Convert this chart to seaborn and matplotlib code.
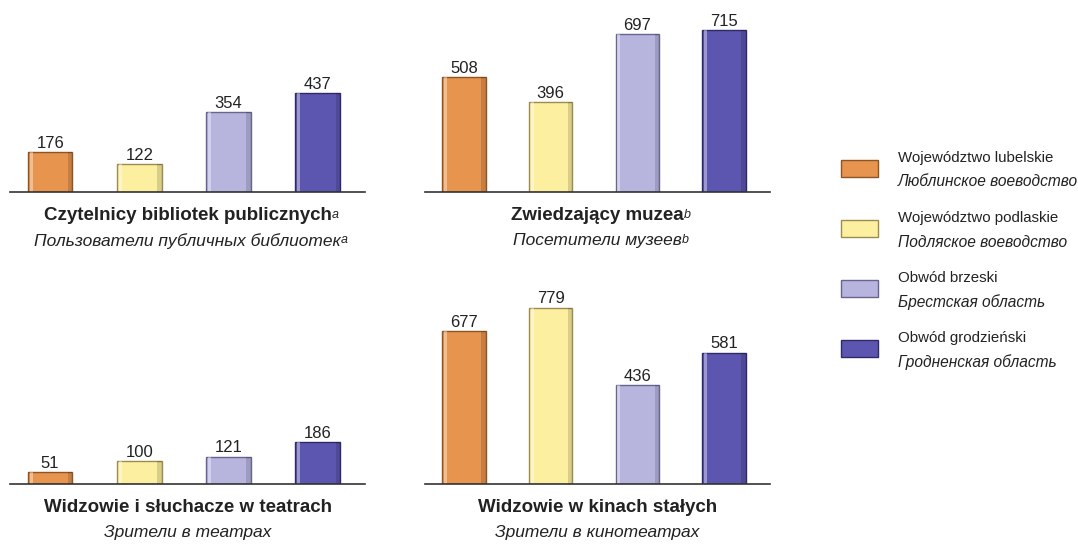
import matplotlib
matplotlib.use('Agg')
import matplotlib.pyplot as plt
from matplotlib.patches import Rectangle
import seaborn as sns
import pandas as pd

sns.set_style('white')
plt.rcParams['font.family'] = ['Liberation Sans', 'DejaVu Sans']

# regions (legend)
regions_pl = ['Województwo lubelskie', 'Województwo podlaskie', 'Obwód brzeski', 'Obwód grodzieński']
regions_ru = ['Люблинское воеводство', 'Подляское воеводство', 'Брестская область', 'Гродненская область']
colors = ['#E6944E', '#FCEFA0', '#B7B5DE', '#5D56B0']
edges = ['#8E5424', '#9C8A50', '#67658F', '#2E2A66']

# values per panel
readers = [176, 122, 354, 437]
museums = [508, 396, 697, 715]
theatres = [51, 100, 121, 186]
cinemas = [677, 779, 436, 581]

titles_pl = ['Czytelnicy bibliotek publicznych', 'Zwiedzający muzea',
             'Widzowie i słuchacze w teatrach', 'Widzowie w kinach stałych']
titles_ru = ['Пользователи публичных библиотек', 'Посетители музеев',
             'Зрители в театрах', 'Зрители в кинотеатрах']
notes = ['a', 'b', '', '']

W, H = 1078, 547
fig = plt.figure(figsize=(W / 100, H / 100), dpi=100)

# panel boxes in pixels: left, baseline, right
boxes = [(10, 192, 365), (425, 192, 770), (10, 484, 365), (425, 484, 770)]
data = [readers, museums, theatres, cinemas]

for i, (vals, (x0, yb, x1)) in enumerate(zip(data, boxes)):
    ax = fig.add_axes([x0 / W, (H - yb) / H, (x1 - x0) / W, 182 / H])
    df = pd.DataFrame({'region': regions_pl, 'value': vals})
    sns.barplot(data=df, x='region', y='value', hue='region', palette=colors,
                saturation=1, width=0.5, legend=False, ax=ax)
    for p, ec in zip(list(ax.patches), edges):
        p.set_edgecolor(ec)
        p.set_linewidth(1.0)
        bx, bw, bh = p.get_x(), p.get_width(), p.get_height()
        # light strip on the left, soft shadow on the right (glassy look)
        ax.add_patch(Rectangle((bx + bw * 0.04, 0), bw * 0.07, bh, facecolor='white',
                               alpha=0.4, linewidth=0))
        ax.add_patch(Rectangle((bx + bw * 0.9, 0), bw * 0.1, bh, facecolor='black',
                               alpha=0.14, linewidth=0))
    for c in ax.containers:
        ax.bar_label(c, fmt='%d', padding=1, fontsize=12, color='#222222')
    ax.set_xlim(-0.45, 3.53)
    ax.set_ylim(0, 805)
    ax.set_xlabel('')
    ax.set_ylabel('')
    ax.set_xticks([])
    ax.set_yticks([])
    for s in ['top', 'right', 'left']:
        ax.spines[s].set_visible(False)
    ax.spines['bottom'].set_color('#333333')
    ax.spines['bottom'].set_linewidth(1.2)

    cx = (x0 + x1) / 2 / W
    t1 = fig.text(cx, (H - yb - 24) / H, titles_pl[i], ha='center', va='center',
                  fontsize=13.5, fontweight='bold', color='#222222')
    t2 = fig.text(cx, (H - yb - 49) / H, titles_ru[i], ha='center', va='center',
                  fontsize=12.5, style='italic', color='#222222')
    if notes[i]:
        for t in (t1, t2):
            ax.annotate(notes[i], xy=(1, 0.18), xycoords=t, xytext=(0, 0),
                        textcoords='offset points', ha='left', va='bottom',
                        fontsize=9, style='italic', color='#222222',
                        annotation_clip=False)

# legend
leg_y = [169, 229, 289, 349]
for k in range(4):
    y = leg_y[k]
    fig.patches.append(Rectangle((841 / W, (H - y - 8) / H), 37 / W, 17 / H,
                                 transform=fig.transFigure, facecolor=colors[k],
                                 edgecolor=edges[k], linewidth=1))
    fig.text(898 / W, (H - y + 11) / H, regions_pl[k], fontsize=10.8,
             va='center', color='#222222')
    fig.text(898 / W, (H - y - 13) / H, regions_ru[k], fontsize=11.2,
             va='center', style='italic', color='#222222')

plt.savefig('out.png', dpi=100)
